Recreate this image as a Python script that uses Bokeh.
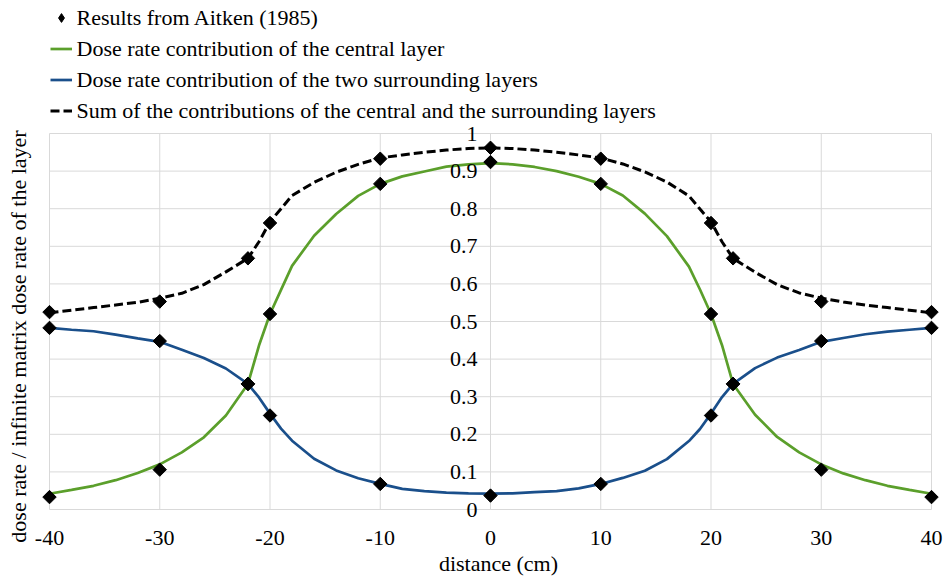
import numpy as np
from bokeh.plotting import figure
from bokeh.models import (Range1d, Label, LabelSet, ColumnDataSource,
                          Legend, LegendItem)
from bokeh.core.properties import value
from bokeh.embed import file_html
from bokeh.resources import INLINE

# ---- data ----
dist = [-40, -38, -36, -34, -32, -30, -28, -26, -24, -22, -21, -20, -19, -18, -16, -14, -12,
        -10, -8, -6, -4, -2, 0, 2, 4, 6, 8, 10, 12, 14, 16, 18, 19, 20, 21, 22, 24, 26,
        28, 30, 32, 34, 36, 38, 40]
central = [0.042, 0.052, 0.063, 0.078, 0.097, 0.120, 0.152, 0.192, 0.250, 0.334, 0.436,
           0.520, 0.584, 0.648, 0.728, 0.786, 0.834, 0.866, 0.886, 0.899, 0.912, 0.918,
           0.921, 0.918, 0.911, 0.900, 0.885, 0.866, 0.835, 0.787, 0.727, 0.646, 0.585,
           0.520, 0.437, 0.334, 0.252, 0.193, 0.152, 0.120, 0.096, 0.078, 0.063, 0.052, 0.042]
surround = [0.483, 0.478, 0.474, 0.465, 0.455, 0.446, 0.425, 0.403, 0.375, 0.334, 0.298,
            0.255, 0.215, 0.183, 0.135, 0.104, 0.083, 0.068, 0.055, 0.049, 0.045, 0.043,
            0.042, 0.043, 0.046, 0.049, 0.056, 0.068, 0.084, 0.103, 0.134, 0.182, 0.214,
            0.255, 0.299, 0.334, 0.376, 0.404, 0.424, 0.446, 0.456, 0.466, 0.473, 0.478, 0.483]
total = [0.523, 0.530, 0.537, 0.544, 0.551, 0.562, 0.575, 0.598, 0.632, 0.668, 0.712,
         0.765, 0.800, 0.835, 0.870, 0.897, 0.918, 0.935, 0.943, 0.950, 0.956, 0.960,
         0.962, 0.960, 0.956, 0.950, 0.943, 0.935, 0.919, 0.898, 0.871, 0.834, 0.799,
         0.765, 0.712, 0.668, 0.631, 0.598, 0.576, 0.562, 0.552, 0.544, 0.537, 0.530, 0.523]

aitken_x = [-40, -30, -22, -20, -10, 0, 10, 20, 22, 30, 40]
aitken_central = [0.033, 0.106, 0.334, 0.520, 0.866, 0.924, 0.866, 0.520, 0.334, 0.106, 0.033]
aitken_surround = [0.483, 0.448, 0.334, 0.250, 0.068, 0.037, 0.068, 0.250, 0.334, 0.448, 0.483]
aitken_sum = [0.525, 0.553, 0.668, 0.762, 0.933, 0.962, 0.933, 0.762, 0.668, 0.553, 0.525]

x_ticks = [-40, -30, -20, -10, 0, 10, 20, 30, 40]
x_tick_labels = ["-40", "-30", "-20", "-10", "0", "10", "20", "30", "40"]
y_ticks = [0, 0.1, 0.2, 0.3, 0.4, 0.5, 0.6, 0.7, 0.8, 0.9, 1.0]
y_tick_labels = ["0", "0.1", "0.2", "0.3", "0.4", "0.5", "0.6", "0.7", "0.8", "0.9", "1"]

legend_labels = ["Results from Aitken (1985)",
                 "Dose rate contribution of the central layer",
                 "Dose rate contribution of the two surrounding layers",
                 "Sum of the contributions of the central and the surrounding layers"]
x_title = "distance (cm)"
y_title = "dose rate / infinite matrix dose rate of the layer"

FONT = "Liberation Serif"
FS = "22px"
GREEN = "#5B9F2B"
BLUE = "#1A4F8B"
GRID = "#d9d9d9"

W, H = 944, 576
# plot area of the reference: x -40..40 -> px 49..931 ; y 0..1 -> px 509..133
PX_X = (931 - 49) / 80.0
PX_Y = (509 - 133) / 1.0
x_lo = -40 - 49 / PX_X
x_hi = 40 + (W - 931) / PX_X
y_lo = -(H - 509) / PX_Y
y_hi = 1 + 133 / PX_Y

p = figure(width=W, height=H, output_backend="svg", toolbar_location=None,
           x_range=Range1d(x_lo, x_hi), y_range=Range1d(y_lo, y_hi),
           x_axis_location=None, y_axis_location=None,
           min_border=0, min_border_left=0, min_border_right=0,
           min_border_top=0, min_border_bottom=0)
p.outline_line_color = None
p.background_fill_color = "white"
p.border_fill_color = "white"
p.grid.visible = False

# grid lines, limited to the plotting area
x_min, x_max = x_ticks[0], x_ticks[-1]
y_min, y_max = y_ticks[0], y_ticks[-1]
p.segment(x0=x_ticks, y0=[y_min] * len(x_ticks), x1=x_ticks, y1=[y_max] * len(x_ticks),
          line_color=GRID, line_width=1, level="underlay")
p.segment(x0=[x_min] * len(y_ticks), y0=y_ticks, x1=[x_max] * len(y_ticks), y1=y_ticks,
          line_color=GRID, line_width=1, level="underlay")

r_sum = p.line(dist, total, line_color="black", line_width=3, line_dash="9 4")
r_sur = p.line(dist, surround, line_color=BLUE, line_width=2.7)
r_cen = p.line(dist, central, line_color=GREEN, line_width=2.7)

ax_all = aitken_x + aitken_x + aitken_x
ay_all = aitken_central + aitken_surround + aitken_sum
# diamond glyphs (used for the legend key), covered by the rotated squares
r_pts_key = p.scatter(ax_all, ay_all, marker="diamond", size=11,
                      fill_color="black", line_color="black")
r_pts = p.scatter(ax_all, ay_all, marker="square", angle=np.pi / 4, size=9.5,
                  fill_color="black", line_color="black")

# y tick labels drawn at x = 0 (vertical axis crosses at 0)
ysrc = ColumnDataSource(dict(x=[0] * len(y_ticks), y=y_ticks, text=y_tick_labels))
p.add_layout(LabelSet(x="x", y="y", text="text", source=ysrc, x_offset=-13,
                      text_align="right", text_baseline="middle",
                      text_font=value(FONT), text_font_size=value(FS),
                      text_color="black"))

# x tick labels under the y = 0 line
xsrc = ColumnDataSource(dict(x=x_ticks, y=[0] * len(x_ticks), text=x_tick_labels))
p.add_layout(LabelSet(x="x", y="y", text="text", source=xsrc, y_offset=-28,
                      text_align="center", text_baseline="middle",
                      text_font=value(FONT), text_font_size=value(FS),
                      text_color="black"))

p.add_layout(Label(x=498, y=H - 563, x_units="screen", y_units="screen", text=x_title,
                   text_align="center", text_baseline="middle", text_font=FONT,
                   text_font_size=FS, text_color="black"))
p.add_layout(Label(x=18, y=H - 336, x_units="screen", y_units="screen", text=y_title,
                   angle=np.pi / 2, text_align="center", text_baseline="middle",
                   text_font=FONT, text_font_size=FS, text_color="black"))

# legend keys drawn by Bokeh's Legend; the serif label texts are set as Labels beside them
ROW_H, GAP = 25, 6
LEG_LEFT, LEG_TOP, KEY_W, KEY_GAP = 50, 4.5, 22, 4
leg_h = 4 * ROW_H + 3 * GAP
legend = Legend(items=[LegendItem(label=" ", renderers=[r_pts_key]),
                       LegendItem(label=" ", renderers=[r_cen]),
                       LegendItem(label=" ", renderers=[r_sur]),
                       LegendItem(label=" ", renderers=[r_sum])],
                location=(LEG_LEFT, H - LEG_TOP - leg_h), orientation="vertical",
                border_line_color=None, background_fill_alpha=0,
                padding=0, margin=0, spacing=GAP, glyph_width=KEY_W, glyph_height=ROW_H,
                label_height=ROW_H, label_standoff=KEY_GAP, label_width=0,
                label_text_font_size=FS, label_text_baseline="middle",
                label_text_color="black")
p.add_layout(legend)

for i, txt in enumerate(legend_labels):
    row_mid = LEG_TOP + ROW_H / 2 + i * (ROW_H + GAP)
    p.add_layout(Label(x=LEG_LEFT + KEY_W + KEY_GAP, y=H - row_mid,
                       x_units="screen", y_units="screen", text=txt,
                       text_align="left", text_baseline="middle", text_font=FONT,
                       text_font_size=FS, text_color="black"))

open("out.html", "w").write(file_html(p, INLINE))
